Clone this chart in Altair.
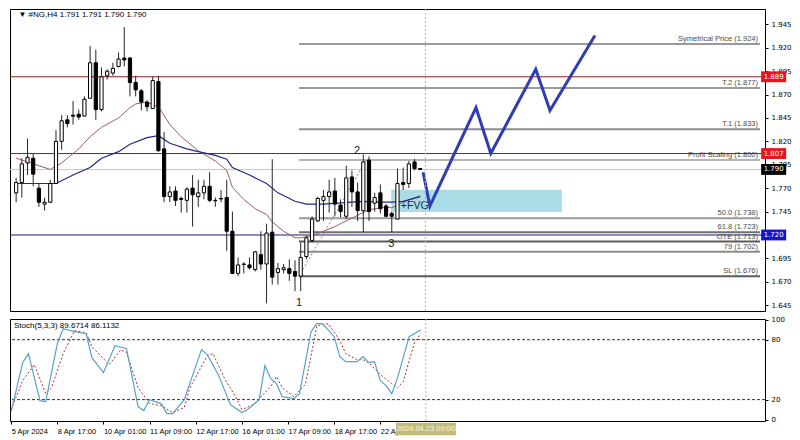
import altair as alt
import pandas as pd

# ---------------- data ----------------
bars = list(range(72))
opens = [1.765, 1.776, 1.797, 1.802, 1.770, 1.753, 1.755, 1.775, 1.820, 1.843,
         1.848, 1.849, 1.847, 1.866, 1.904, 1.854, 1.890, 1.893, 1.900, 1.909,
         1.909, 1.883, 1.874, 1.862, 1.855, 1.884, 1.812, 1.761, 1.767, 1.759,
         1.757, 1.770, 1.761, 1.765, 1.772, 1.757, 1.759, 1.760, 1.724, 1.679,
         1.689, 1.688, 1.683, 1.699, 1.689, 1.723, 1.680, 1.683, 1.684, 1.681,
         1.676, 1.697, 1.714, 1.735, 1.757, 1.761, 1.767, 1.752, 1.740, 1.782,
         1.766, 1.746, 1.800, 1.754, 1.765, 1.751, 1.743, 1.737, 1.776, 1.775,
         1.798, 1.791]
highs = [1.781, 1.802, 1.823, 1.807, 1.775, 1.760, 1.779, 1.832, 1.848, 1.848,
         1.863, 1.854, 1.868, 1.922, 1.918, 1.899, 1.897, 1.904, 1.915, 1.942,
         1.910, 1.890, 1.876, 1.864, 1.889, 1.890, 1.830, 1.772, 1.772, 1.761,
         1.771, 1.784, 1.779, 1.779, 1.787, 1.760, 1.768, 1.779, 1.745, 1.696,
         1.691, 1.696, 1.703, 1.724, 1.732, 1.801, 1.690, 1.689, 1.694, 1.693,
         1.712, 1.719, 1.740, 1.761, 1.768, 1.779, 1.781, 1.758, 1.794, 1.789,
         1.776, 1.806, 1.804, 1.765, 1.774, 1.753, 1.745, 1.791, 1.792, 1.799,
         1.801, 1.791]
lows = [1.755, 1.760, 1.784, 1.772, 1.750, 1.746, 1.754, 1.775, 1.811, 1.835,
        1.838, 1.843, 1.847, 1.866, 1.843, 1.852, 1.886, 1.890, 1.899, 1.900,
        1.868, 1.868, 1.853, 1.852, 1.855, 1.809, 1.755, 1.755, 1.751, 1.744,
        1.744, 1.729, 1.750, 1.758, 1.755, 1.750, 1.755, 1.703, 1.678, 1.676,
        1.679, 1.683, 1.681, 1.683, 1.647, 1.667, 1.667, 1.679, 1.671, 1.660,
        1.660, 1.694, 1.712, 1.734, 1.735, 1.744, 1.740, 1.739, 1.737, 1.750,
        1.735, 1.723, 1.735, 1.745, 1.743, 1.739, 1.723, 1.737, 1.768, 1.770,
        1.789, 1.790]
closes = [1.776, 1.796, 1.803, 1.785, 1.755, 1.755, 1.775, 1.820, 1.842, 1.839,
          1.847, 1.846, 1.865, 1.904, 1.854, 1.889, 1.895, 1.898, 1.908, 1.907,
          1.883, 1.875, 1.862, 1.857, 1.885, 1.810, 1.761, 1.766, 1.757, 1.758,
          1.769, 1.763, 1.765, 1.772, 1.757, 1.7565, 1.7585, 1.724, 1.679, 1.688,
          1.6885, 1.685, 1.702, 1.689, 1.722, 1.675, 1.684, 1.685, 1.679, 1.676,
          1.696, 1.717, 1.737, 1.759, 1.761, 1.766, 1.753, 1.745, 1.781, 1.766,
          1.746, 1.798, 1.745, 1.760, 1.748, 1.740, 1.740, 1.775, 1.774, 1.796,
          1.791, 1.790]

ma_fast_bar = [0, 3, 6, 8, 11, 13, 15, 18, 20, 21, 23, 25, 27, 29, 32, 35, 37, 38, 40, 42,
               44, 45, 47, 49, 50, 52, 56, 59, 62, 65, 66, 68, 71]
ma_fast_val = [1.802, 1.796, 1.790, 1.797, 1.812, 1.825, 1.835, 1.845, 1.856, 1.860,
               1.862, 1.857, 1.838, 1.825, 1.810, 1.799, 1.789, 1.771, 1.758, 1.748,
               1.742, 1.734, 1.724, 1.717, 1.717, 1.719, 1.729, 1.738, 1.747, 1.750,
               1.749, 1.755, 1.762]
ma_slow_bar = [0, 7, 10, 13, 15, 18, 20, 23, 25, 27, 30, 32, 35, 37, 38, 41, 44, 46, 49, 51,
               54, 59, 61, 64, 66, 68, 71]
ma_slow_val = [1.775, 1.775, 1.784, 1.792, 1.802, 1.809, 1.817, 1.824, 1.826, 1.818,
               1.812, 1.809, 1.805, 1.801, 1.792, 1.784, 1.775, 1.765, 1.756, 1.753,
               1.753, 1.755, 1.756, 1.755, 1.755, 1.756, 1.761]

stoch_main_bar = [0, 2, 3, 5, 6, 8, 9, 11, 13, 14, 16, 18, 20, 22, 23, 24, 26, 27, 28, 30,
                  33, 34, 36, 38, 40, 41, 43, 44, 45, 46, 47, 49, 50, 52, 53, 54, 56, 57, 58, 60,
                  61, 62, 63, 64, 65, 66, 67, 69, 71]
stoch_main_val = [8, 57, 66, 19, 18, 76, 91, 88, 86, 62, 47, 74, 71, 13, 9, 20, 16, 6, 6, 20,
                  70, 65, 44, 15, 7, 10, 20, 54, 41, 36, 23, 21, 26, 88, 96, 96, 83, 63, 58, 58,
                  63, 57, 58, 39, 34, 26, 42, 83, 89.7]
stoch_sig_bar = [0, 2, 4, 6, 7, 9, 11, 13, 14, 17, 19, 20, 22, 24, 26, 28, 30, 31, 34, 35,
                 37, 39, 40, 42, 45, 46, 47, 49, 51, 52, 53, 55, 57, 58, 60, 61, 62, 64, 66, 67,
                 68, 69, 70, 71]
stoch_sig_val = [10, 39, 55, 26, 32, 66, 89, 87, 73, 55, 70, 67, 32, 16, 14, 7, 12, 32, 64, 66,
                 41, 22, 10, 15, 33, 43, 32, 23, 35, 64, 94, 96, 79, 66, 60, 60, 57, 45, 36, 32,
                 38, 59, 78, 86.1]

zigzag_bar = [71.5, 72.7, 80.8, 83.4, 91.3, 93.8, 101.7]
zigzag_price = [1.787, 1.751, 1.856, 1.807, 1.897, 1.853, 1.933]

fib_names = ["Symetrical Price", "T.2", "T.1", "Profit Scaling", "50.0", "61.8", "OTE", "79", "SL"]
fib_levels = [1.924, 1.877, 1.833, 1.800, 1.738, 1.723, 1.713, 1.702, 1.676]
fib_start_bar = 49.7

wave_labels = ["1", "2", "3"]
wave_bar = [49.7, 59.9, 65.9]
wave_price = [1.647, 1.810, 1.710]

dotted_bar = [49.7, 61.6]
dotted_price = [1.676, 1.801]

fvg_bar = [65.9, 95.9]
fvg_price = [1.7446, 1.7682]
fvg_label_bar = 67.6
fvg_label_price = 1.7507

hline_prices = [1.889, 1.807, 1.790, 1.720]
tag_prices = [1.889, 1.807, 1.790, 1.720]
tag_labels = ["1.889", "1.807", "1.790", "1.720"]

price_ticks = [1.645, 1.670, 1.695, 1.720, 1.745, 1.770, 1.795, 1.820, 1.845, 1.870, 1.895, 1.920, 1.945]
stoch_ticks = [0, 20, 80, 100]
stoch_levels = [80, 20]
date_bars = [0, 8, 16, 24, 32, 40, 48, 56, 64]
date_labels = ["5 Apr 2024", "8 Apr 17:00", "10 Apr 01:00", "11 Apr 09:00", "12 Apr 17:00",
               "16 Apr 01:00", "17 Apr 09:00", "18 Apr 17:00", "22 Apr 01:00"]
cursor_bar = 71.9
cursor_label = "2024.04.23 09:00"
title_text = "\u25bc #NG,H4  1.791 1.791 1.790 1.790"
stoch_text = "Stoch(5,3,3) 89.6714 86.1132"

# ---------------- styles / layout ----------------
W, H1, H2 = 755, 302, 102
XMIN, XMAX = -0.2, 130.7
PMIN, PMAX = 1.6388, 1.9614
SMIN, SMAX = -1.4, 100.7
FONT = "Liberation Sans"
AXFONT = "DejaVu Sans"
fib_colors = ["#9a9a9a", "#9a9a9a", "#8c8c8c", "#b4b4b4", "#9a9a9a", "#6e6e6e", "#5a5a5a", "#8c8c8c", "#5a5a5a"]
hline_colors = ["#8b1c1c", "#8b1c1c", "#c8c8c8", "#1c1c70"]
tag_colors = ["#e8141e", "#e8141e", "#000000", "#1414c8"]
TAG_X1, TAG_X2 = 130.9, 135.3
TAG_HALF = 0.0058
DATE_TAG_HALF = 5.2

xs = alt.Scale(domain=[XMIN, XMAX], nice=False, zero=False)
ys = alt.Scale(domain=[PMIN, PMAX], nice=False, zero=False)
ss = alt.Scale(domain=[SMIN, SMAX], nice=False, zero=False)

# the 1.720 tick label sits under the blue price tag, as in the reference
price_label_expr = "abs(datum.value - 1.72) < 0.0005 ? '' : format(datum.value, '.3f')"
yax = alt.Axis(orient="right", values=price_ticks, labelExpr=price_label_expr, grid=False, domain=False,
               tickSize=3, tickColor="black", labelFont=AXFONT, labelFontSize=7,
               labelColor="black", labelPadding=3, title=None, labelOverlap=False, zindex=0)
sax = alt.Axis(orient="right", values=stoch_ticks, format="d", grid=False, domain=False,
               tickSize=3, tickColor="black", labelFont=AXFONT, labelFontSize=7,
               labelColor="black", labelPadding=3, title=None, labelOverlap=False, zindex=0)
label_expr = "[" + ",".join("'%s'" % s for s in date_labels) + "][round(datum.value/8)]"
xax = alt.Axis(values=date_bars, labelExpr=label_expr, labelAlign="left", grid=False,
               domain=False, tickSize=3, tickColor="black", labelFont=FONT,
               labelFontSize=7.5, labelColor="black", labelPadding=3, title=None,
               labelOverlap=False, labelBound=False, labelFlush=False, zindex=0)


def X(f):
    return alt.X(f, type="quantitative", scale=xs, axis=None, title=None)


def XS(f):
    return alt.X(f, type="quantitative", scale=xs, axis=xax, title=None)


def Y(f):
    return alt.Y(f, type="quantitative", scale=ys, axis=yax, title=None)


def S(f):
    return alt.Y(f, type="quantitative", scale=ss, axis=sax, title=None)


# ---------------- main panel ----------------
candles = pd.DataFrame({"i": bars, "o": opens, "h": highs, "l": lows, "c": closes})
candles["top"] = candles[["o", "c"]].max(axis=1)
candles["bot"] = candles[["o", "c"]].min(axis=1)
candles["kind"] = ["up" if c >= o else "down" for o, c in zip(opens, closes)]

fvg = pd.DataFrame({"x1": [fvg_bar[0]], "x2": [fvg_bar[1]], "p1": [fvg_price[0]], "p2": [fvg_price[1]]})
fvg_layer = alt.Chart(fvg).mark_rect(color="#acdce6").encode(x=X("x1"), x2="x2", y=Y("p1"), y2="p2")

hl = pd.DataFrame({"p": hline_prices, "col": hline_colors})
hl_layer = alt.Chart(hl).mark_rule(strokeWidth=1).encode(y=Y("p"), color=alt.Color("col:N", scale=None))

fib = pd.DataFrame({"p": fib_levels, "col": fib_colors,
                    "lab": ["%s (%.3f)" % (n, v) for n, v in zip(fib_names, fib_levels)],
                    "x1": [fib_start_bar] * len(fib_levels), "x2": [XMAX] * len(fib_levels)})
fib_layer = alt.Chart(fib).mark_rule(strokeWidth=2).encode(
    x=X("x1"), x2="x2", y=Y("p"), color=alt.Color("col:N", scale=None))
fib_text = alt.Chart(fib).mark_text(align="right", baseline="bottom", dx=-2, dy=-1,
                                    font=FONT, fontSize=7.5, color="#4a4a4a").encode(
    x=X("x2"), y=Y("p"), text="lab:N")

ma_fast = pd.DataFrame({"i": ma_fast_bar, "v": ma_fast_val})
ma_slow = pd.DataFrame({"i": ma_slow_bar, "v": ma_slow_val})
ma_fast_layer = alt.Chart(ma_fast).mark_line(color="#a85a64", strokeWidth=1).encode(x=X("i"), y=Y("v"))
ma_slow_layer = alt.Chart(ma_slow).mark_line(color="#202a88", strokeWidth=1.2).encode(x=X("i"), y=Y("v"))

dotted = pd.DataFrame({"i": dotted_bar, "p": dotted_price})
dotted_layer = alt.Chart(dotted).mark_line(color="#b07878", strokeWidth=1, strokeDash=[2, 2]).encode(
    x=X("i"), y=Y("p"))

wicks = alt.Chart(candles).mark_rule(color="#262626", strokeWidth=1).encode(x=X("i"), y=Y("l"), y2="h")
bodies = alt.Chart(candles).mark_bar(size=3.2, stroke="black", strokeWidth=1).encode(
    x=X("i"), y=Y("bot"), y2="top",
    fill=alt.Fill("kind:N", scale=alt.Scale(domain=["up", "down"], range=["white", "black"]), legend=None))

zz = pd.DataFrame({"k": list(range(len(zigzag_bar))), "i": zigzag_bar, "p": zigzag_price})
zz_layer = alt.Chart(zz).mark_line(color="#2f3db2", strokeWidth=3).encode(x=X("i"), y=Y("p"), order="k:Q")

waves = pd.DataFrame({"t": wave_labels, "i": wave_bar, "p": wave_price})
wave_layer = alt.Chart(waves).mark_text(font=FONT, fontSize=11, color="#222222").encode(
    x=X("i"), y=Y("p"), text="t:N")
fvg_lab = pd.DataFrame({"t": ["+FVG"], "i": [fvg_label_bar], "p": [fvg_label_price]})
fvg_text = alt.Chart(fvg_lab).mark_text(align="left", font=FONT, fontSize=10.5, color="#1c2a48").encode(
    x=X("i"), y=Y("p"), text="t:N")

cur = pd.DataFrame({"i": [cursor_bar]})
cursor_main = alt.Chart(cur).mark_rule(color="#c8b48c", strokeWidth=1, strokeDash=[2, 2]).encode(x=X("i"))

ttl = pd.DataFrame({"t": [title_text], "i": [0.4], "p": [1.9553]})
title_layer = alt.Chart(ttl).mark_text(align="left", baseline="middle", font=FONT, fontSize=8,
                                        color="black").encode(x=X("i"), y=Y("p"), text="t:N")

tags = pd.DataFrame({"p": tag_prices, "lab": tag_labels, "col": tag_colors})
tags["hi"] = tags["p"] + TAG_HALF
tags["lo"] = tags["p"] - TAG_HALF
tags["x1"] = TAG_X1
tags["x2"] = TAG_X2
tags["xm"] = (TAG_X1 + TAG_X2) / 2
tag_rect = alt.Chart(tags).mark_rect().encode(
    x=X("x1"), x2="x2", y=Y("lo"), y2="hi", fill=alt.Fill("col:N", scale=None))
tag_text = alt.Chart(tags).mark_text(font=AXFONT, fontSize=7, color="white").encode(
    x=X("xm"), y=Y("p"), text="lab:N")

main = alt.layer(
    fvg_layer, hl_layer, fib_layer, fib_text, ma_fast_layer, ma_slow_layer, dotted_layer,
    wicks, bodies, zz_layer, wave_layer, fvg_text, cursor_main, title_layer, tag_rect, tag_text
).properties(width=W, height=H1)

# ---------------- stochastic panel ----------------
smain = pd.DataFrame({"i": stoch_main_bar, "v": stoch_main_val})
ssig = pd.DataFrame({"i": stoch_sig_bar, "v": stoch_sig_val})
levels = pd.DataFrame({"v": stoch_levels})

lvl_layer = alt.Chart(levels).mark_rule(color="#333333", strokeWidth=1, strokeDash=[3, 2]).encode(y=S("v"))
sig_layer = alt.Chart(ssig).mark_line(color="#b03030", strokeWidth=1, strokeDash=[2, 2]).encode(
    x=XS("i"), y=S("v"))
main_layer = alt.Chart(smain).mark_line(color="#5aa0c8", strokeWidth=1.2).encode(x=XS("i"), y=S("v"))
cursor_st = alt.Chart(cur).mark_rule(color="#c8b48c", strokeWidth=1, strokeDash=[2, 2]).encode(x=XS("i"))
stl = pd.DataFrame({"t": [stoch_text], "i": [0.5], "v": [94.0]})
st_text = alt.Chart(stl).mark_text(align="left", baseline="middle", font=FONT, fontSize=8,
                                   color="black").encode(x=XS("i"), y=S("v"), text="t:N")
dt = pd.DataFrame({"t": [cursor_label], "i": [cursor_bar], "x1": [cursor_bar - DATE_TAG_HALF],
                   "x2": [cursor_bar + DATE_TAG_HALF], "v1": [-3.2], "v2": [-15.6], "vm": [-9.4]})
date_tag = alt.Chart(dt).mark_rect(color="#c2bc78").encode(x=XS("x1"), x2="x2", y=S("v1"), y2="v2")
date_text = alt.Chart(dt).mark_text(font=FONT, fontSize=7.5, color="#f6f6e8").encode(
    x=XS("i"), y=S("vm"), text="t:N")

stoch = alt.layer(lvl_layer, sig_layer, main_layer, cursor_st, st_text, date_tag, date_text).properties(
    width=W, height=H2)

chart = alt.vconcat(main, stoch, spacing=3).properties(
    padding={"left": 0, "top": 0, "right": 0, "bottom": 0}, background="white"
).configure_view(stroke="black", strokeWidth=1)

chart.save("out.html", embed_options={"renderer": "svg", "actions": False})
